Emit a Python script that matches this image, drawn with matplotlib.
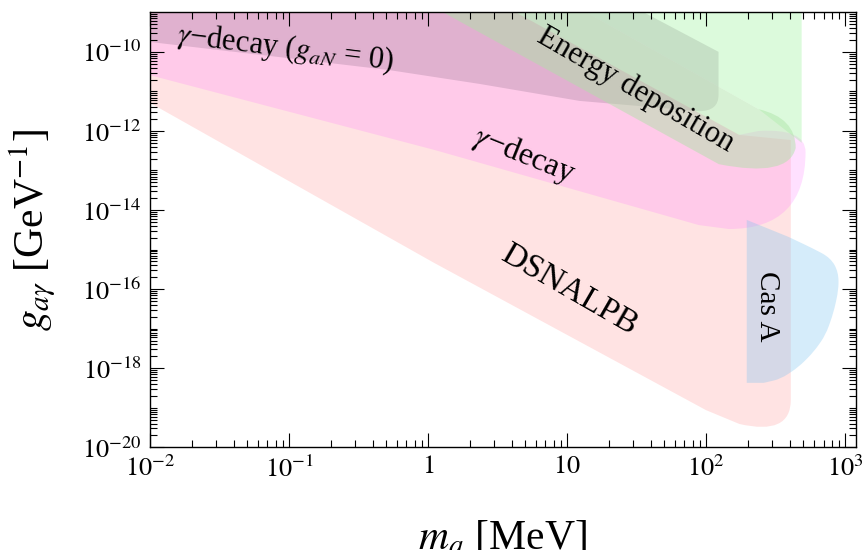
import matplotlib
matplotlib.use("Agg")
import matplotlib.pyplot as plt
import numpy as np
from matplotlib.path import Path
from matplotlib.patches import PathPatch
from matplotlib.ticker import FixedLocator, FuncFormatter, NullFormatter

plt.rcParams["font.family"] = "serif"
plt.rcParams["font.serif"] = ["Liberation Serif", "DejaVu Serif"]
plt.rcParams["mathtext.fontset"] = "stix"

# outlines, as log10(m_a/MeV) and log10(g/GeV^-1)
# rnd > 0 marks a rounded corner
dsn_logm = [-2.65, -2.65, -2.0, 0.046, 2.0, 2.24, 2.61, 2.61, 2.61, 2.24, 0.10]
dsn_logg = [-6.16, -9.98, -11.29, -15.34, -19.06, -19.41, -19.71, -18.80, -12.23, -12.10, -7.98]
dsn_rnd = [0, 0, 0, 0, 0, 0, 1, 0, 0, 0, 0]

gam_logm = [-2.65, -2.65, -2.0, 0.046, 1.948, 2.164, 2.716, 2.716, 2.716, 2.379, 2.236, 0.103]
gam_logg = [-6.16, -9.98, -10.59, -12.48, -14.38, -14.48, -14.48, -12.53, -11.93, -12.00, -12.10, -7.98]
gam_rnd = [0, 0, 0, 0, 0, 0, 1, 0, 1, 0, 0, 0]

gan0_logm = [-2.65, 0.01, 1.52, 2.09, 2.09, 2.09, 1.95, 1.09, 0.37, -0.28, -1.0, -2.0, -2.65]
gan0_logg = [-6.16, -6.16, -8.94, -10.0, -11.09, -11.50, -11.50, -11.24, -10.81, -10.46, -10.16, -9.75, -9.50]
gan0_rnd = [0, 0, 0, 0, 0, 1, 0, 0, 0, 0, 0, 0, 0]

green_logm = [0.211, 2.688, 2.688, 2.379]
green_logg = [-7.17, -7.17, -12.30, -11.45]
green_rnd = [0, 0, 0, 0]

edep_logm = [0.211, 2.379, 2.645, 2.645, 2.594, 2.092, -0.837]
edep_logg = [-7.17, -11.45, -11.67, -12.43, -13.19, -12.84, -7.17]
edep_rnd = [0, 0, 1, 0, 1, 0, 0]

casa_logm = [2.293, 2.594, 2.774, 2.896, 2.953, 2.953, 2.917, 2.860, 2.774, 2.666, 2.537, 2.415, 2.293]
casa_logg = [-14.25, -14.68, -14.98, -15.21, -15.57, -16.02, -16.60, -17.16, -17.59, -17.97, -18.27, -18.37, -18.37]
casa_rnd = [0, 0, 0.4, 0.5, 0.5, 0.4, 0.4, 0.4, 0.4, 0.4, 0.4, 0, 0]

xticks = [1e-2, 1e-1, 1, 10, 1e2, 1e3]
xticklabels = [r"$10^{-2}$", r"$10^{-1}$", r"$1$", r"$10$", r"$10^{2}$", r"$10^{3}$"]
ylab_exp = [-20, -18, -16, -14, -12, -10]


def region(ax, logm, logg, rnd, color, alpha):
    pts = np.column_stack([logm, logg])
    n = len(pts)
    verts, codes = [], []
    for i in range(n):
        p = pts[i]
        if rnd[i] == 0:
            verts.append(p)
            codes.append(Path.LINETO)
        else:
            a = p + rnd[i] * (pts[i - 1] - p)
            b = p + rnd[i] * (pts[(i + 1) % n] - p)
            verts += [a, p, b]
            codes += [Path.LINETO, Path.CURVE3, Path.CURVE3]
    codes[0] = Path.MOVETO
    verts.append(verts[0])
    codes.append(Path.CLOSEPOLY)
    path = Path(10.0 ** np.array(verts), codes)
    ax.add_patch(PathPatch(path, facecolor=color, alpha=alpha, edgecolor="none", lw=0))


fig = plt.figure(figsize=(8.66, 5.5), dpi=100)
ax = fig.add_axes([0.1732, 0.1867, 0.8153, 0.7909])
ax.set_xscale("log")
ax.set_yscale("log")
ax.set_xlim(1e-2, 1.2e3)
ax.set_ylim(1e-20, 1e-9)

region(ax, dsn_logm, dsn_logg, dsn_rnd, (1.0, 0.6, 0.6), 0.27)
region(ax, gam_logm, gam_logg, gam_rnd, (1.0, 0.45, 1.0), 0.22)
region(ax, gan0_logm, gan0_logg, gan0_rnd, (0.45, 0.35, 0.45), 0.22)
region(ax, green_logm, green_logg, green_rnd, (0.55, 0.94, 0.55), 0.30)
region(ax, edep_logm, edep_logg, edep_rnd, (0.68, 0.89, 0.65), 0.48)
region(ax, casa_logm, casa_logg, casa_rnd, (0.48, 0.76, 0.94), 0.31)

ax.text(0.094, 1.2e-10, r"$\gamma$" + "\u2212decay (" + r"$g_{aN}$" + " = 0)",
        fontsize=22, rotation=-7, ha="center", va="center", rotation_mode="anchor")
ax.text(31.3, 1.1e-11, "Energy deposition", fontsize=22, rotation=-30,
        ha="center", va="center", rotation_mode="anchor")
ax.text(4.9, 2.4e-13, r"$\gamma$" + "\u2212decay", fontsize=23, rotation=-22,
        ha="center", va="center", rotation_mode="anchor")
ax.text(10.4, 9.5e-17, "DSNALPB", fontsize=24, rotation=-30,
        ha="center", va="center", rotation_mode="anchor")
ax.text(273, 3.7e-17, "Cas A", fontsize=21, rotation=-90,
        ha="center", va="center", rotation_mode="anchor")

ax.set_axisbelow(False)
ax.xaxis.set_major_locator(FixedLocator(xticks))
ax.xaxis.set_major_formatter(FuncFormatter(lambda v, p: xticklabels[xticks.index(v)] if v in xticks else ""))
xminor = [k * 10.0 ** e for e in range(-2, 3) for k in range(2, 10)]
ax.xaxis.set_minor_locator(FixedLocator(xminor))
ax.xaxis.set_minor_formatter(NullFormatter())

ymajor = [10.0 ** e for e in ylab_exp]
ax.yaxis.set_major_locator(FixedLocator(ymajor))
ax.yaxis.set_major_formatter(FuncFormatter(lambda v, p: r"$10^{%d}$" % round(np.log10(v))))
yminor = [k * 10.0 ** e for e in range(-20, -9) for k in range(1, 10) if not (k == 1 and e in ylab_exp)]
ax.yaxis.set_minor_locator(FixedLocator(yminor))
ax.yaxis.set_minor_formatter(NullFormatter())

ax.tick_params(which="both", direction="in", top=True, right=True, width=0.8, labelsize=19)
ax.tick_params(which="major", length=10, pad=6)
ax.tick_params(which="minor", length=5)
for s in ax.spines.values():
    s.set_linewidth(1.0)

ax.set_xlabel(r"$m_a$ [MeV]", fontsize=30)
ax.set_ylabel(r"$g_{a\gamma}$ [GeV$^{-1}$]", fontsize=30)
ax.xaxis.set_label_coords(0.5, -0.165)
ax.yaxis.set_label_coords(-0.13, 0.5)

fig.savefig("out.png", dpi=100)
